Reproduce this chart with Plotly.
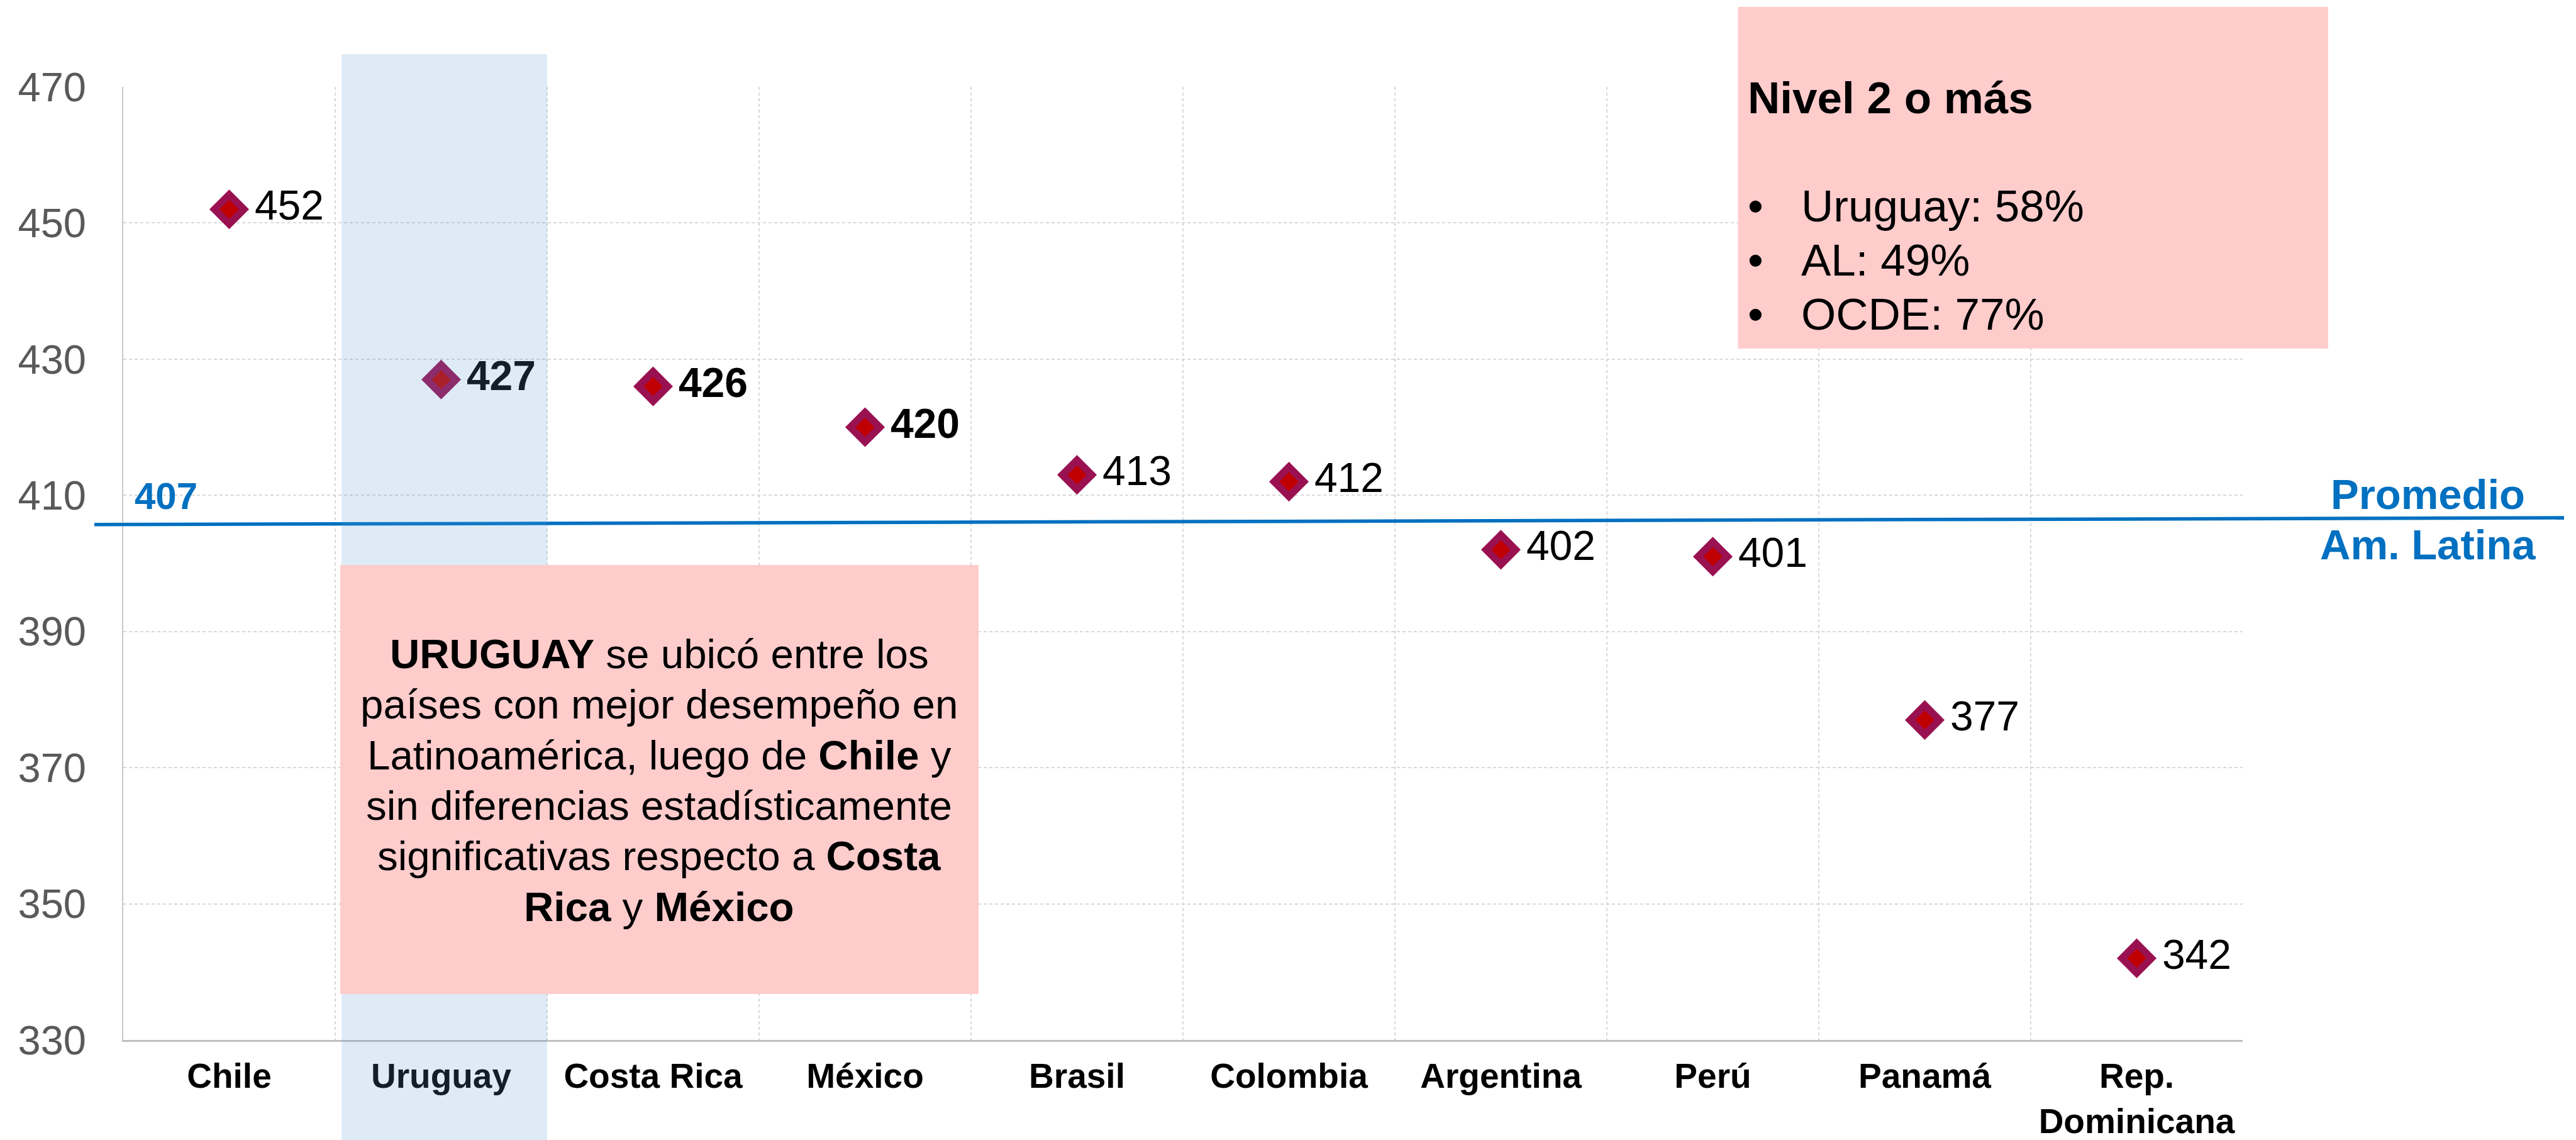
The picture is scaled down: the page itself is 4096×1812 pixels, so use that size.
import plotly.graph_objects as go

# ---------------- data ----------------
CATEGORIES = ["Chile", "Uruguay", "Costa Rica", "México", "Brasil", "Colombia",
              "Argentina", "Perú", "Panamá", "Rep.<br>Dominicana"]
SCORES = [452, 427, 426, 420, 413, 412, 402, 401, 377, 342]
BOLD = [False, True, True, True, False, False, False, False, False, False]
Y_TICKS = [330, 350, 370, 390, 410, 430, 450, 470]
HIGHLIGHT = "Uruguay"
AVG_LABEL = "407"
AVG_LINE_Y = [405.7, 406.7]          # line as drawn (slightly tilted in source)
AVG_NAME = ["Promedio", "Am. Latina"]
BOX1_LINES = [
    "<b>URUGUAY</b> se ubicó entre los",
    "países con mejor desempeño en",
    "Latinoamérica, luego de <b>Chile</b> y",
    "sin diferencias estadísticamente",
    "significativas respecto a <b>Costa</b>",
    "<b>Rica</b> y <b>México</b>",
]
BOX2_TITLE = "Nivel 2 o más"
BOX2_ITEMS = ["Uruguay: 58%", "AL: 49%", "OCDE: 77%"]

# ---------------- geometry ----------------
W, H = 4096, 1812
L, R, T, B = 196, 530, 138, 159
PW, PH = W - L - R, H - T - B
FONT = "Liberation Sans, Arial, sans-serif"
BLUE = "#0070C0"


def px(xp):
    return (xp - L) / PW


def py(yp):
    return (H - B - yp) / PH


def ann(text, xp, baseline, size, xanchor="center", color="black", bold=False):
    t = f"<b>{text}</b>" if bold else text
    return dict(text=t, xref="paper", yref="paper", x=px(xp),
                y=py(baseline - 0.37 * size), xanchor=xanchor, yanchor="middle",
                showarrow=False, align=xanchor if xanchor != "center" else "center",
                font=dict(family=FONT, size=size, color=color))


labels = [f"<b>{v}</b>" if b else str(v) for v, b in zip(SCORES, BOLD)]

fig = go.Figure()
fig.add_trace(go.Scatter(
    x=CATEGORIES, y=SCORES, mode="markers",
    marker=dict(symbol="diamond", size=36, color="#C00000",
                line=dict(color="#9A1152", width=11.5)),
    hoverinfo="skip", showlegend=False, cliponaxis=False))
fig.add_trace(go.Scatter(
    x=CATEGORIES, y=SCORES, mode="markers+text", text=labels,
    textposition="middle right",
    textfont=dict(family=FONT, size=66, color="black"),
    marker=dict(size=63, opacity=0), hoverinfo="skip", showlegend=False,
    cliponaxis=False))

hi = CATEGORIES.index(HIGHLIGHT)
shapes = [
    # average line
    dict(type="line", xref="paper", yref="y", x0=px(150), x1=px(4077),
         y0=AVG_LINE_Y[0], y1=AVG_LINE_Y[1], line=dict(color=BLUE, width=5.5),
         layer="above"),
    # highlight band
    dict(type="rect", xref="x", yref="paper", x0=hi - 0.47, x1=hi + 0.5,
         y0=py(H + 5), y1=py(86), fillcolor="rgba(91,155,213,0.2)",
         line=dict(width=0), layer="above"),
    # text boxes
    dict(type="rect", xref="paper", yref="paper", x0=px(541), x1=px(1556),
         y0=py(1580), y1=py(898), fillcolor="#FFCCCC", line=dict(width=0),
         layer="above"),
    dict(type="rect", xref="paper", yref="paper", x0=px(2763.5), x1=px(3702),
         y0=py(554), y1=py(11), fillcolor="#FFCCCC", line=dict(width=0),
         layer="above"),
]

annotations = []
for k, line in enumerate(BOX1_LINES):
    annotations.append(ann(line, 1048, 1063.5 + k * 80.4, 65.5))
annotations.append(ann(BOX2_TITLE, 2777, 181.6, 71, xanchor="left", bold=True))
for k, item in enumerate(BOX2_ITEMS):
    base = 354.2 + k * 85.8
    annotations.append(ann("•", 2777, base, 71, xanchor="left"))
    annotations.append(ann(item, 2861.5, base, 71, xanchor="left"))
annotations.append(ann(AVG_LABEL, 212, 811, 60, xanchor="left", color=BLUE, bold=True))
annotations.append(ann(AVG_NAME[0], 3860, 810, 67, color=BLUE, bold=True))
annotations.append(ann(AVG_NAME[1], 3860, 890, 67, color=BLUE, bold=True))

fig.update_layout(
    width=W, height=H, margin=dict(l=L, r=R, t=T, b=B, pad=0, autoexpand=False),
    paper_bgcolor="white", plot_bgcolor="white",
    font=dict(family=FONT),
    shapes=shapes, annotations=annotations,
    xaxis=dict(type="category", range=[-0.5, len(CATEGORIES) - 0.5],
               tickson="boundaries", ticks="", showgrid=True,
               gridcolor="#D9D9D9", gridwidth=2, griddash="5px,4px",
               showline=True, linecolor="#BFBFBF", linewidth=3,
               tickfont=dict(family=FONT, size=55, color="black", weight="bold"),
               ticklabelstandoff=7, zeroline=False, automargin=False),
    yaxis=dict(range=[330, 470], tickvals=Y_TICKS, ticks="",
               showgrid=True, gridcolor="#D9D9D9", gridwidth=2, griddash="5px,4px",
               showline=True, linecolor="#C8C8C8", linewidth=2,
               tickfont=dict(family=FONT, size=65, color="#595959"),
               ticklabelstandoff=44, zeroline=False, automargin=False),
)

fig.write_html("out.html", config={"displayModeBar": False},
               post_script="document.body.style.margin='0';"
                           "document.body.style.overflow='hidden';")
